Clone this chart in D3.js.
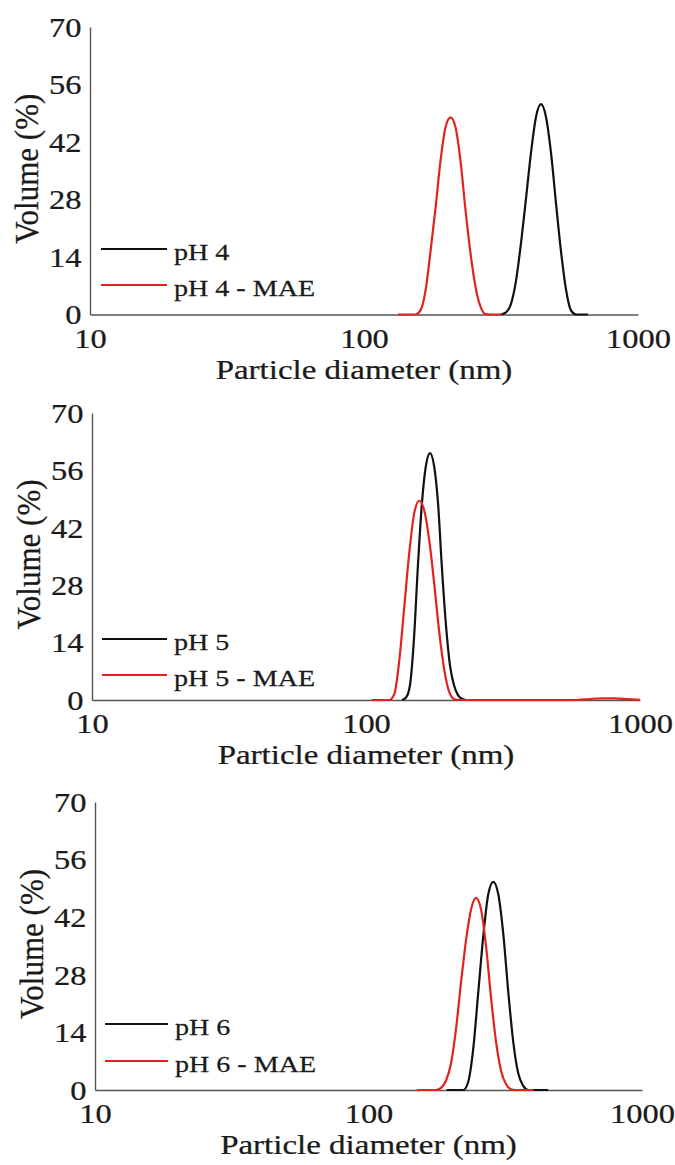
<!DOCTYPE html>
<html>
<head>
<meta charset="utf-8">
<script src="https://cdn.jsdelivr.net/npm/d3@7"></script>
<style>
  body { margin: 0; background: #fff; }
  svg { display: block; }
  text { font-family: "Liberation Serif", "Times New Roman", serif; fill: #1a1a1a; stroke: #1a1a1a; stroke-width: 0.25px; }
</style>
</head>
<body>
<svg width="675" height="1165"></svg>
<script>
// ticks
const xTicks = [10, 100, 1000];
const yTicks = [0, 14, 28, 42, 56, 70];

// pH 4
const ph4Size = [316.2, 329.8, 343.9, 358.7, 374.1, 390.1, 406.9, 424.3, 442.5, 461.5, 481.3, 502.0, 523.5, 546.0, 569.4, 593.8, 656.9];
const ph4Vol  = [0, 0.5, 2.6, 8.2, 17.4, 28.2, 39.4, 48.1, 51.2, 48.1, 39.4, 27.1, 15.4, 6.1, 1.0, 0, 0];
const ph4MaeSize = [133.1, 154.2, 160.8, 167.7, 174.9, 182.4, 190.2, 198.4, 206.9, 215.8, 225.0, 234.7, 244.8, 255.3, 266.2, 277.6, 289.5, 318.9];
const ph4MaeVol  = [0, 0, 1.0, 5.8, 15.4, 25.9, 37.4, 45.6, 48.0, 45.6, 37.4, 25.4, 14.9, 6.7, 1.9, 0.1, 0, 0];

// pH 5
const ph5Size = [135.3, 140.0, 144.7, 149.7, 154.8, 160.1, 165.5, 171.2, 177.1, 183.1, 189.4, 195.9, 202.6, 209.5, 216.6, 224.0, 231.7, 260.6];
const ph5Vol  = [0, 0.6, 3.6, 15.1, 33.1, 48.2, 57.2, 60.2, 57.2, 48.2, 31.9, 18.1, 8.4, 3.6, 1.2, 0.3, 0, 0];
const ph5MaeSize = [104.9, 121.7, 126.9, 132.3, 138.0, 143.9, 150.1, 156.5, 163.2, 170.2, 177.5, 185.1, 193.1, 201.4, 210.0, 219.0, 431.5, 579.1, 656.9, 732.8, 810.4, 904.1, 1000];
const ph5MaeVol  = [0, 0, 1.5, 9.7, 22.8, 36.0, 45.7, 48.6, 46.2, 38.9, 28.2, 16.5, 7.3, 1.9, 0.2, 0, 0, 0, 0.25, 0.4, 0.38, 0.2, 0.05];

// pH 6
const ph6Size = [193.2, 222.1, 231.6, 241.6, 252.0, 262.8, 274.1, 285.9, 298.2, 311.0, 324.4, 338.4, 352.9, 368.1, 383.9, 454.5];
const ph6Vol  = [0, 0, 2.0, 10.1, 23.8, 37.4, 47.6, 50.6, 47.6, 38.0, 23.8, 11.6, 4.0, 1.0, 0, 0];
const ph6MaeSize = [150.1, 176.6, 184.2, 192.1, 200.4, 209.0, 218.0, 227.3, 237.1, 247.3, 257.9, 269.0, 280.6, 292.7, 305.3, 318.4, 332.1, 346.4, 400.5];
const ph6MaeVol  = [0, 0, 0.5, 2.3, 6.5, 14.9, 26.2, 36.4, 43.9, 46.7, 43.9, 35.0, 22.4, 11.7, 4.7, 1.4, 0.2, 0, 0];

const names = [["pH 4", "pH 4 - MAE"], ["pH 5", "pH 5 - MAE"], ["pH 6", "pH 6 - MAE"]];
const seriesData = [
  [[ph4Size, ph4Vol], [ph4MaeSize, ph4MaeVol]],
  [[ph5Size, ph5Vol], [ph5MaeSize, ph5MaeVol]],
  [[ph6Size, ph6Vol], [ph6MaeSize, ph6MaeVol]]
];
const colors = ["#111111", "#e3231b"];

// panel boxes
const layout = [
  {left: 90, right: 638, top: 27,  bottom: 314.5, leg: [249, 285], legX: [101, 167, 174]},
  {left: 92, right: 640, top: 413, bottom: 700,   leg: [639, 675], legX: [102, 167, 174]},
  {left: 95, right: 642, top: 802, bottom: 1090,  leg: [1024, 1061], legX: [105, 168, 175]}
];

const svg = d3.select("svg");
const sx = 1.18; // text is horizontally stretched in the original

layout.forEach((p, i) => {
  const x = d3.scaleLog().domain([10, 1000]).range([p.left, p.right]);
  const y = d3.scaleLinear().domain([0, 70]).range([p.bottom, p.top]);

  const xg = svg.append("g")
      .attr("transform", `translate(0,${p.bottom})`)
      .call(d3.axisBottom(x).tickValues(xTicks).tickSize(0).tickSizeOuter(0).tickFormat(d3.format("d")));
  xg.select(".domain").attr("stroke", "#555").attr("stroke-width", 1.4);
  xg.selectAll("text")
      .attr("y", null).attr("dy", null)
      .attr("font-family", null).attr("fill", "#1a1a1a")
      .style("font-size", "27.5px")
      .attr("transform", `translate(0,33) scale(${sx},1)`);

  const yg = svg.append("g")
      .attr("transform", `translate(${p.left},0)`)
      .call(d3.axisLeft(y).tickValues(yTicks).tickSize(0).tickSizeOuter(0));
  yg.select(".domain").attr("stroke", "#555").attr("stroke-width", 1.4);
  yg.selectAll("text")
      .attr("x", null).attr("dy", null)
      .attr("font-family", null).attr("fill", "#1a1a1a")
      .attr("text-anchor", "end")
      .style("font-size", "27.5px")
      .attr("transform", `translate(-8.5,9.3) scale(${sx},1)`);

  svg.append("text")
      .attr("text-anchor", "middle")
      .attr("transform", `translate(${(p.left + p.right) / 2},${p.bottom + 64}) scale(1.2,1)`)
      .style("font-size", "27.5px")
      .text("Particle diameter (nm)");

  svg.append("text")
      .attr("text-anchor", "middle")
      .attr("transform", `translate(${p.left - 52},${(p.top + p.bottom) / 2 - 2}) scale(1.1,1) rotate(-90)`)
      .style("font-size", "31px")
      .text("Volume (%)");

  const line = d3.line()
      .x(d => x(d[0]))
      .y(d => y(d[1]))
      .curve(d3.curveMonotoneX);

  seriesData[i].forEach((s, k) => {
    const pts = s[0].map((v, j) => [v, s[1][j]]);
    svg.append("path")
        .datum(pts)
        .attr("fill", "none")
        .attr("stroke", colors[k])
        .attr("stroke-width", 2.2)
        .attr("d", line);
  });

  names[i].forEach((n, k) => {
    svg.append("line")
        .attr("x1", p.legX[0]).attr("x2", p.legX[1])
        .attr("y1", p.leg[k]).attr("y2", p.leg[k])
        .attr("stroke", colors[k])
        .attr("stroke-width", 2.2);
    svg.append("text")
        .attr("transform", `translate(${p.legX[2]},${p.leg[k] + 10.5}) scale(1.17,1)`)
        .style("font-size", "24px")
        .text(n);
  });
});
</script>
</body>
</html>
